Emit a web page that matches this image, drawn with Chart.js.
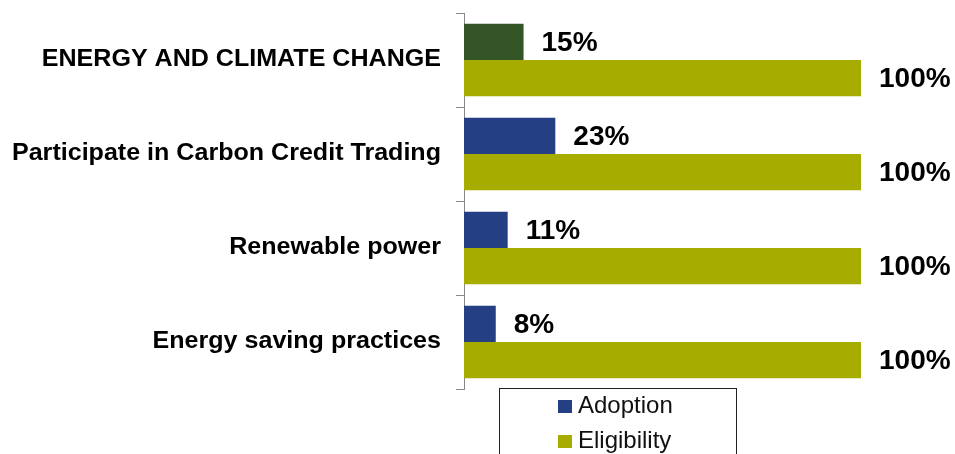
<!DOCTYPE html>
<html>
<head>
<meta charset="utf-8">
<script src="https://cdn.jsdelivr.net/npm/chart.js@4"></script>
<style>
  html, body { margin: 0; padding: 0; background: #fff; }
  #wrap { width: 955px; height: 454px; }
</style>
</head>
<body>
<div id="wrap"><canvas id="chart"></canvas></div>
<script>
const categories = ["ENERGY AND CLIMATE CHANGE", "Participate in Carbon Credit Trading", "Renewable power", "Energy saving practices"];
const adoption = [15, 23, 11, 8];
const eligibility = [100, 100, 100, 100];
const seriesNames = ["Adoption", "Eligibility"];

const FONT = "'Liberation Sans', Arial, sans-serif";
const blue = "#253f84";
const olive = "#a6ad00";
const darkGreen = "#335526";

// category labels, drawn a bit wide like the original
const catLabels = {
  id: "catLabels",
  afterDraw(chart) {
    const ctx = chart.ctx;
    const y = chart.scales.y;
    ctx.save();
    ctx.font = "bold 23px " + FONT;
    ctx.fillStyle = "#000";
    ctx.textAlign = "right";
    ctx.textBaseline = "middle";
    chart.data.labels.forEach((lab, i) => {
      ctx.save();
      ctx.translate(441, y.getPixelForTick(i));
      ctx.scale(1.09, 1);
      ctx.fillText(lab, 0, 0);
      ctx.restore();
    });
    ctx.restore();
  }
};

// value labels to the right of each bar
const valueLabels = {
  id: "valueLabels",
  afterDatasetsDraw(chart) {
    const ctx = chart.ctx;
    ctx.save();
    ctx.font = "bold 28px " + FONT;
    ctx.fillStyle = "#000";
    ctx.textBaseline = "middle";
    ctx.textAlign = "left";
    chart.data.datasets.forEach((ds, i) => {
      chart.getDatasetMeta(i).data.forEach((bar, j) => {
        ctx.fillText(ds.data[j] + "%", bar.x + 18, bar.y + 1);
      });
    });
    ctx.restore();
  }
};

// boxed legend, items stacked
const boxLegend = {
  id: "boxLegend",
  afterDraw(chart) {
    const ctx = chart.ctx;
    ctx.save();
    ctx.strokeStyle = "#222";
    ctx.lineWidth = 1;
    ctx.strokeRect(499.5, 388.5, 237, 90);
    ctx.font = "24px " + FONT;
    ctx.textBaseline = "middle";
    const colors = [blue, olive];
    seriesNames.forEach((name, i) => {
      const y = 406 + i * 35;
      ctx.fillStyle = colors[i];
      ctx.fillRect(558, y - 6, 14, 13);
      ctx.fillStyle = "#111";
      ctx.fillText(name, 578, y);
    });
    ctx.restore();
  }
};

new Chart(document.getElementById("chart"), {
  type: "bar",
  data: {
    labels: categories,
    datasets: [
      {
        label: seriesNames[0],
        data: adoption,
        backgroundColor: [darkGreen, blue, blue, blue],
        categoryPercentage: 0.77,
        barPercentage: 1
      },
      {
        label: seriesNames[1],
        data: eligibility,
        backgroundColor: olive,
        categoryPercentage: 0.77,
        barPercentage: 1
      }
    ]
  },
  options: {
    indexAxis: "y",
    responsive: true,
    maintainAspectRatio: false,
    animation: false,
    layout: { padding: { top: 13, bottom: 65, right: 94, left: 0 } },
    plugins: {
      legend: { display: false },
      tooltip: { enabled: false }
    },
    scales: {
      x: { display: false, min: 0, max: 100 },
      y: {
        afterFit(scale) { scale.width = 464; scale.paddingTop = 0; scale.paddingBottom = 0; },
        border: { display: true, color: "#888", width: 1 },
        grid: { drawOnChartArea: false, drawTicks: true, tickLength: 8, color: "#888", offset: true },
        ticks: { display: false }
      }
    }
  },
  plugins: [catLabels, valueLabels, boxLegend]
});
</script>
</body>
</html>
